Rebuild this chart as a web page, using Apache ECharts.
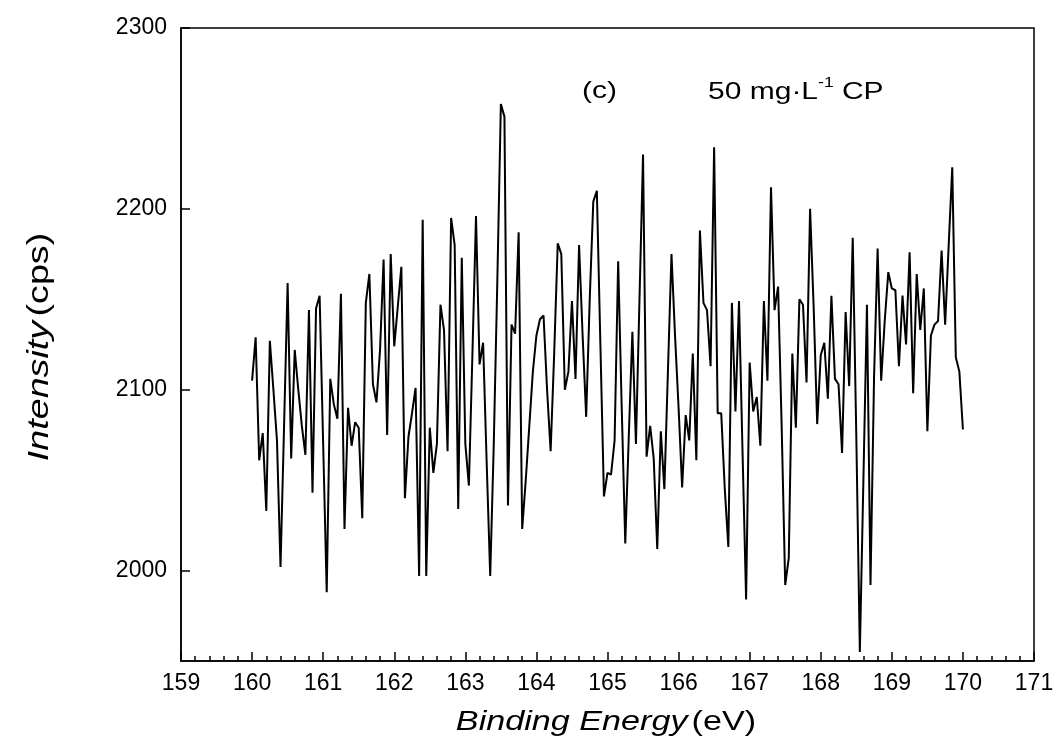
<!DOCTYPE html>
<html>
<head>
<meta charset="utf-8">
<script src="https://cdn.jsdelivr.net/npm/echarts@6/dist/echarts.min.js"></script>
<style>
  html, body { margin: 0; padding: 0; background: #fff; }
  #chart { width: 1059px; height: 747px; }
</style>
</head>
<body>
<div id="chart"></div>
<script>
// XPS 谱：结合能 160–170 eV，步长 0.05 eV
const energyStart = 160;
const energyStep = 0.05;

// 强度 (cps)
const intensity = [
  2105, 2129, 2061, 2076, 2033, 2127, 2100, 2072, 2002, 2080,
  2159, 2062, 2122, 2100, 2080, 2064, 2144, 2043, 2145, 2152,
  2070, 1988, 2106, 2092, 2084, 2153, 2023, 2090, 2069, 2082,
  2079, 2029, 2148, 2164, 2103, 2093, 2122, 2172, 2075, 2175,
  2124, 2146, 2168, 2040, 2074, 2087, 2101, 1997, 2194, 1997,
  2079, 2054, 2070, 2147, 2133, 2066, 2195, 2180, 2034, 2173,
  2070, 2047, 2120, 2196, 2114, 2126, 2060, 1997, 2070, 2160,
  2258, 2251, 2036, 2136, 2131, 2187, 2023, 2050, 2080, 2110,
  2130, 2139, 2141, 2100, 2066, 2120, 2181, 2175, 2100, 2110,
  2149, 2106, 2180, 2130, 2085, 2150, 2204, 2210, 2125, 2041,
  2054, 2053, 2072, 2171, 2090, 2015, 2075, 2132, 2070, 2150,
  2230, 2063, 2080, 2062, 2012, 2077, 2045, 2110, 2175, 2130,
  2090, 2046, 2086, 2072, 2120, 2061, 2188, 2148, 2144, 2113,
  2234, 2087, 2087, 2045, 2013, 2148, 2088, 2149, 2065, 1984,
  2115, 2088, 2096, 2069, 2149, 2105, 2212, 2144, 2157, 2080,
  1992, 2007, 2120, 2079, 2150, 2147, 2104, 2200, 2146, 2081,
  2119, 2126, 2095, 2152, 2106, 2103, 2065, 2143, 2102, 2184,
  2075, 1955, 2050, 2147, 1992, 2107, 2178, 2105, 2138, 2165,
  2156, 2155, 2113, 2152, 2125, 2176, 2098, 2164, 2133, 2156,
  2077, 2130, 2136, 2138, 2177, 2136, 2180, 2223, 2118, 2110,
  2078
];

// 坐标轴刻度
const yTickValues = [2000, 2100, 2200, 2300];

const seriesData = intensity.map((v, i) => [+(energyStart + i * energyStep).toFixed(2), v]);

const fontFamily = '"Liberation Sans", Arial, sans-serif';

// 标题文字（原图文字横向略宽，用 scaleX 拉伸）
function titleRich(size) {
    return {
        i: { fontStyle: 'italic', fontSize: size, fontFamily: fontFamily, fill: '#000' },
        n: { fontSize: size, fontFamily: fontFamily, fill: '#000' }
    };
}

const chart = echarts.init(document.getElementById('chart'));
const option = {
    animation: false,
    backgroundColor: '#fff',
    grid: {
        left: 181,
        right: 25,
        top: 28,
        bottom: 86,
        show: true,
        borderColor: '#000',
        borderWidth: 1.5
    },
    xAxis: {
        type: 'value',
        min: 159,
        max: 171,
        interval: 1,
        axisLine: { lineStyle: { color: '#000', width: 1.5 } },
        axisTick: { inside: true, length: 9, lineStyle: { color: '#000', width: 1.5 } },
        minorTick: { show: true, splitNumber: 5, length: 5, lineStyle: { color: '#000', width: 1.5 } },
        splitLine: { show: false },
        axisLabel: { color: '#000', fontSize: 23, fontFamily: fontFamily, margin: 11 }
    },
    yAxis: {
        type: 'value',
        min: 1950,
        max: 2300,
        axisLine: { lineStyle: { color: '#000', width: 1.5 } },
        axisTick: { inside: true, length: 9, customValues: yTickValues, lineStyle: { color: '#000', width: 1.5 } },
        splitLine: { show: false },
        axisLabel: {
            color: '#000', fontSize: 23, fontFamily: fontFamily, margin: 14,
            customValues: yTickValues,
            formatter: function(v) { return String(v); }
        }
    },
    graphic: [
        {
            type: 'text',
            x: 606,
            y: 722,
            scaleX: 1.22,
            style: {
                text: '{i|Binding Energy} {n|(eV)}',
                rich: titleRich(28),
                align: 'center',
                verticalAlign: 'middle'
            }
        },
        {
            type: 'text',
            x: 40,
            y: 347,
            rotation: Math.PI / 2,
            scaleX: 1.3,
            style: {
                text: '{i|Intensity} {n|(cps)}',
                rich: titleRich(29),
                align: 'center',
                verticalAlign: 'middle'
            }
        },
        {
            type: 'text',
            x: 582,
            y: 91,
            scaleX: 1.25,
            style: { text: '(c)', font: '24px ' + fontFamily, fill: '#000', align: 'left', verticalAlign: 'middle' }
        },
        {
            type: 'text',
            x: 708,
            y: 89,
            scaleX: 1.25,
            style: {
                text: '{b|50 mg·L}{s|-1}{b| CP}',
                align: 'left',
                verticalAlign: 'middle',
                rich: {
                    b: { fontSize: 24, fontFamily: fontFamily, fill: '#000', lineHeight: 30, verticalAlign: 'bottom' },
                    s: { fontSize: 14, fontFamily: fontFamily, fill: '#000', lineHeight: 30, verticalAlign: 'top', padding: [2, 0, 0, 0] }
                }
            }
        }
    ],
    series: [
        {
            type: 'line',
            data: seriesData,
            showSymbol: false,
            lineStyle: { color: '#000', width: 2 },
            silent: true
        }
    ]
};
chart.setOption(option);

window.addEventListener('resize', function() {
    chart.resize();
});
</script>
</body>
</html>
